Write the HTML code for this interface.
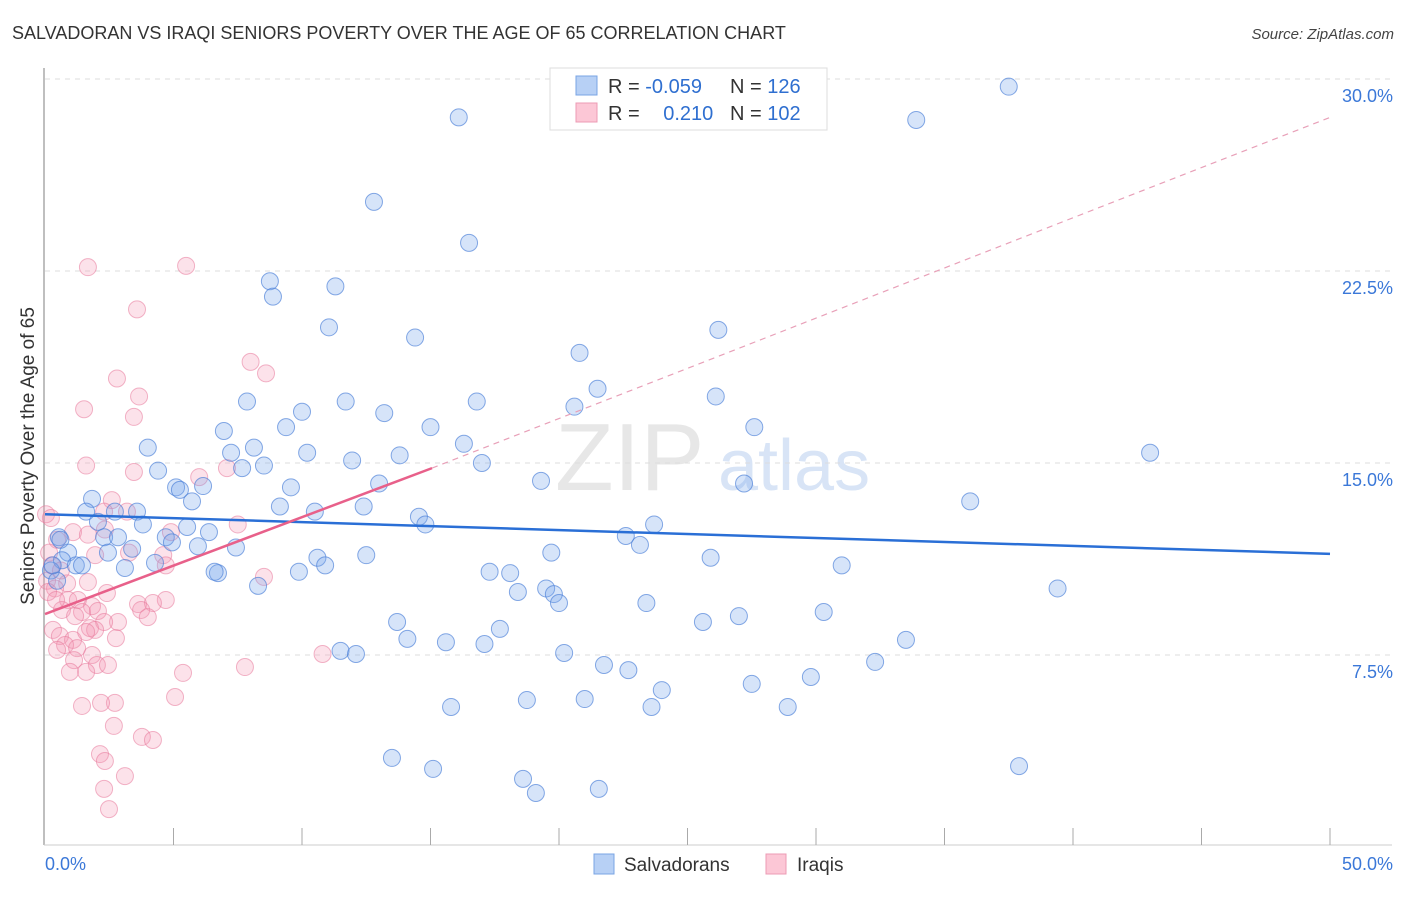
<!DOCTYPE html>
<html><head><meta charset="utf-8"><style>
body{margin:0;background:#fff;font-family:"Liberation Sans",sans-serif}
svg text{font-family:"Liberation Sans",sans-serif}
</style></head><body>
<svg id="chart" width="1406" height="892" xmlns="http://www.w3.org/2000/svg">
<text x="12" y="39" font-size="18" fill="#333">SALVADORAN VS IRAQI SENIORS POVERTY OVER THE AGE OF 65 CORRELATION CHART</text>
<text x="1394" y="39" font-size="15" fill="#444" text-anchor="end" font-style="italic">Source: ZipAtlas.com</text>
<g>
<text x="555" y="490" font-size="96" font-family="Liberation Serif" fill="#ddd" opacity="0.7">ZIP</text>
<text x="718" y="490" font-size="72" fill="#c8daf3" opacity="0.7">atlas</text>
</g>
<g id="grid"></g>
<g id="axes"></g>
<text transform="translate(34,456) rotate(-90)" font-size="19" fill="#333" text-anchor="middle">Seniors Poverty Over the Age of 65</text>
<g id="pts"></g>
<g id="trends"></g>
<g>
<rect x="550" y="68" width="277" height="62" fill="#fff" stroke="#ddd"/>
<rect x="576" y="76" width="21" height="19" fill="#b7d0f5" stroke="#7aa4e4"/>
<text x="608" y="93" font-size="20" fill="#333">R = <tspan fill="#2f6fd0">-0.059</tspan></text>
<text x="730" y="93" font-size="20" fill="#333">N = <tspan fill="#2f6fd0">126</tspan></text>
<rect x="576" y="103" width="21" height="19" fill="#fcc7d6" stroke="#ec9bb4"/>
<text x="608" y="120" font-size="20" fill="#333">R = <tspan fill="#2f6fd0" dx="18">0.210</tspan></text>
<text x="730" y="120" font-size="20" fill="#333">N = <tspan fill="#2f6fd0">102</tspan></text>
</g>
<g>
<rect x="594" y="854" width="20" height="20" fill="#b7d0f5" stroke="#7aa4e4"/>
<text x="624" y="871" font-size="19" fill="#333">Salvadorans</text>
<rect x="766" y="854" width="20" height="20" fill="#fcc7d6" stroke="#ec9bb4"/>
<text x="797" y="871" font-size="19" fill="#333">Iraqis</text>
</g>
</svg>
<script>
const yTicks=[7.5,15,22.5,30];
const yTickLabels=["7.5%","15.0%","22.5%","30.0%"];
const xTicks=[5,10,15,20,25,30,35,40,45,50];
const xEndLabels=["0.0%","50.0%"];
const blueX=[37.5,16.1,33.9,12.8,16.5,8.75,8.87,11.3,11.05,26.2,14.4,20.8,21.5,26.1,7.86,11.7,16.8,10.0,13.2,20.6,9.38,6.96,15.0,27.6,4.0,16.3,8.13,7.24,10.2,43.0,11.95,13.8,8.52,7.67,4.4,17.0,19.3,5.1,5.25,6.15,13.0,9.57,27.2,1.83,5.72,36.0,9.14,12.4,10.5,14.55,14.8,1.6,2.06,2.72,3.58,3.81,23.7,5.53,6.38,2.3,2.84,4.7,4.94,22.6,23.15,7.43,5.95,0.54,0.9,0.66,1.2,2.45,3.39,19.7,25.9,10.6,12.5,3.11,4.28,1.44,10.9,31.0,0.23,0.47,6.73,6.6,9.88,17.3,18.1,8.29,39.4,18.4,19.5,19.8,20.0,23.4,30.3,27.0,13.7,25.6,17.7,14.1,15.6,17.1,33.5,11.5,12.1,20.2,32.3,21.75,22.7,24.0,27.5,29.8,18.75,21.0,15.8,23.6,28.9,13.5,15.1,37.9,18.6,19.1,21.55,0.6,0.3];
const blueY=[29.7,28.5,28.4,25.2,23.6,22.1,21.5,21.9,20.3,20.2,19.9,19.3,17.9,17.6,17.4,17.4,17.4,17.0,16.95,17.2,16.4,16.25,16.4,16.4,15.6,15.75,15.6,15.4,15.4,15.4,15.1,15.3,14.9,14.8,14.7,15.0,14.3,14.05,13.95,14.1,14.2,14.05,14.2,13.6,13.5,13.5,13.3,13.3,13.1,12.9,12.6,13.1,12.7,13.1,13.1,12.6,12.6,12.5,12.3,12.1,12.1,12.1,11.9,12.15,11.8,11.7,11.75,12.1,11.5,11.2,11.0,11.5,11.65,11.5,11.3,11.3,11.4,10.9,11.1,11.0,11.0,11.0,10.8,10.4,10.7,10.75,10.75,10.75,10.7,10.2,10.1,9.96,10.1,9.88,9.53,9.53,9.18,9.02,8.79,8.79,8.52,8.13,8.0,7.93,8.09,7.66,7.54,7.58,7.23,7.11,6.91,6.13,6.37,6.64,5.74,5.78,5.47,5.47,5.47,3.48,3.05,3.16,2.66,2.11,2.27,12.0,11.0];
const pinkX=[1.67,5.49,3.58,8.0,2.8,8.6,3.66,1.52,3.46,1.6,3.46,6.0,7.08,2.6,2.3,3.19,0.04,7.5,1.09,1.67,2.33,4.9,0.47,3.27,1.95,4.6,4.7,8.52,0.16,0.27,0.62,0.08,0.86,1.67,0.39,2.41,0.9,1.28,1.83,3.62,4.7,4.2,0.66,1.44,2.06,3.74,4.0,1.17,2.84,2.3,0.31,0.58,1.09,1.75,1.95,1.6,2.76,0.78,1.25,0.47,1.83,1.13,2.02,2.45,0.97,1.6,7.78,10.8,5.37,5.06,2.72,1.44,2.18,2.68,3.77,4.2,2.14,2.33,3.11,2.3,2.49,0.23,0.12,0.43];
const pinkY=[22.65,22.7,21.0,18.95,18.3,18.5,17.6,17.1,16.8,14.9,14.65,14.45,14.8,13.55,13.1,13.1,13.0,12.6,12.3,12.2,12.4,12.3,12.0,11.5,11.4,11.4,11.0,10.55,11.5,11.0,10.8,10.4,10.3,10.35,10.1,9.92,9.65,9.65,9.41,9.49,9.65,9.53,9.26,9.18,9.22,9.26,8.98,9.02,8.79,8.79,8.48,8.24,8.09,8.55,8.48,8.4,8.16,7.89,7.77,7.7,7.5,7.3,7.11,7.11,6.84,6.84,7.03,7.54,6.8,5.86,5.63,5.51,5.63,4.73,4.3,4.18,3.63,3.36,2.77,2.27,1.48,12.85,9.96,9.65];
const blueTrend=[[0,13.0],[50,11.45]];
const pinkTrend=[[0,9.1],[15.06,14.8]];
const pinkDash=[[15.06,14.8],[50,28.5]];
const NS="http://www.w3.org/2000/svg";
const X=v=>45+v*25.7, Y=v=>847-v*25.6;
function mk(tag,attrs,parent){const e=document.createElementNS(NS,tag);for(const k in attrs)e.setAttribute(k,attrs[k]);parent.appendChild(e);return e;}
const grid=document.getElementById('grid'),axes=document.getElementById('axes'),pts=document.getElementById('pts'),tr=document.getElementById('trends');
yTicks.forEach((t,i)=>{
 const l=mk('line',{x1:45,x2:1392,y1:Y(t),y2:Y(t),stroke:'#ddd','stroke-dasharray':'5,5'},grid);
 
 
 const tx=mk('text',{x:1393,y:Y(t)+23,'font-size':18,fill:'#3b78d8','text-anchor':'end'},axes);
 tx.textContent=yTickLabels[i];
 
 
});
mk('line',{x1:44,x2:44,y1:68,y2:845,stroke:'#aaa','stroke-width':1.5},axes);
mk('line',{x1:44,x2:1392,y1:845,y2:845,stroke:'#ccc'},axes);
xTicks.forEach(t=>{const l=mk('line',{x1:X(t),x2:X(t),y1:828,y2:845,stroke:'#aaa'},axes);
 
 });
const xl0=mk('text',{x:45,y:870,'font-size':18,fill:'#3b78d8'},axes);xl0.textContent=xEndLabels[0];


const xl1=mk('text',{x:1393,y:870,'font-size':18,fill:'#3b78d8','text-anchor':'end'},axes);xl1.textContent=xEndLabels[1];


pinkX.forEach((x,i)=>{const c=mk('circle',{cx:X(x),cy:Y(pinkY[i]),r:8.5,fill:'rgba(245,150,180,0.28)',stroke:'rgba(232,120,155,0.55)','stroke-width':1},pts);
 
 });
blueX.forEach((x,i)=>{const c=mk('circle',{cx:X(x),cy:Y(blueY[i]),r:8.5,fill:'rgba(120,165,235,0.3)',stroke:'rgba(70,125,215,0.65)','stroke-width':1},pts);
 
 });
const bt=mk('line',{x1:X(blueTrend[0][0]),y1:Y(blueTrend[0][1]),x2:X(blueTrend[1][0]),y2:Y(blueTrend[1][1]),stroke:'#2a6fd6','stroke-width':2.5},tr);


const pt=mk('line',{x1:X(pinkTrend[0][0]),y1:Y(pinkTrend[0][1]),x2:X(pinkTrend[1][0]),y2:Y(pinkTrend[1][1]),stroke:'#e8608a','stroke-width':2.5},tr);


const pd=mk('line',{x1:X(pinkDash[0][0]),y1:Y(pinkDash[0][1]),x2:X(pinkDash[1][0]),y2:Y(pinkDash[1][1]),stroke:'#e8a0b8','stroke-width':1.2,'stroke-dasharray':'6,5'},tr);


</script>
</body></html>
